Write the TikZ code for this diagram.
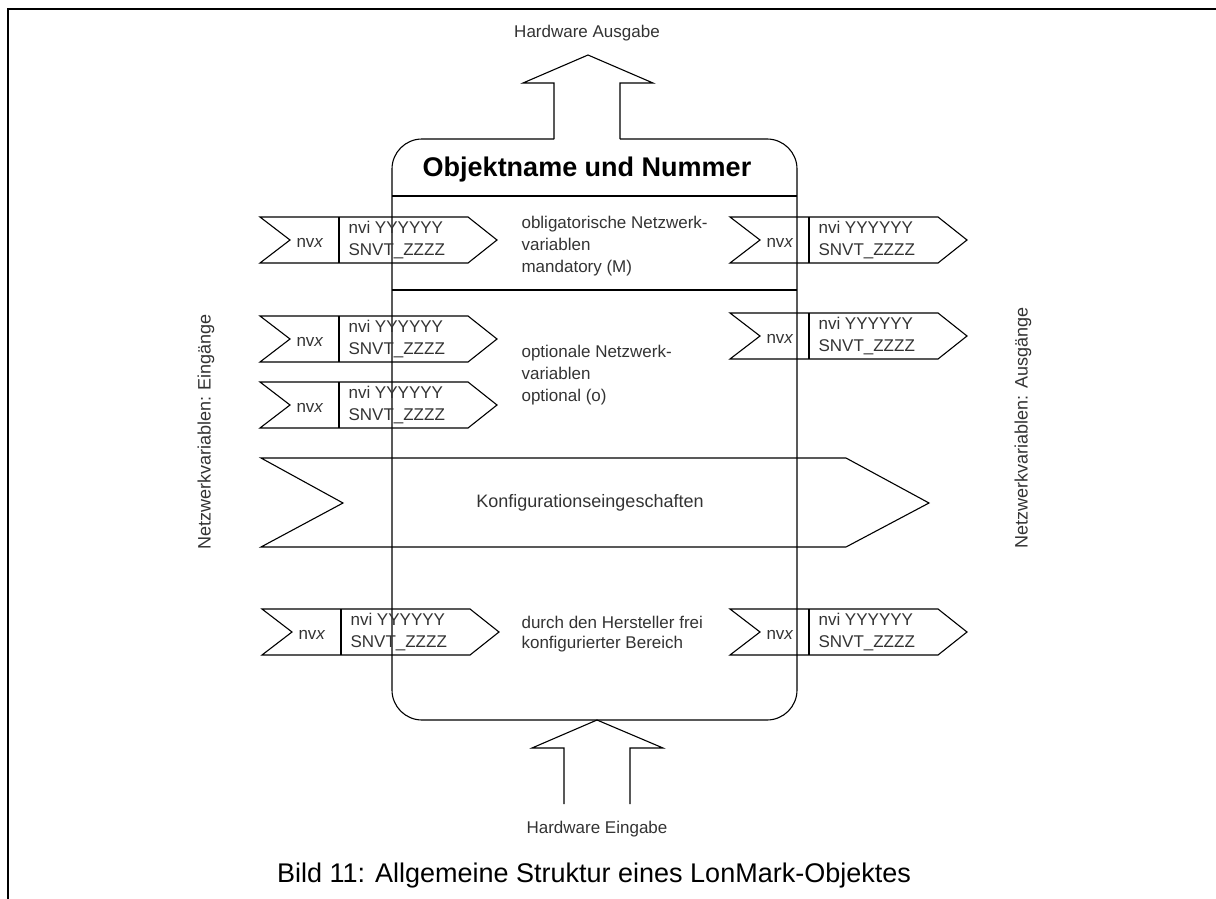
\documentclass[tikz,border=0pt]{standalone}
\usepackage{fontspec}
\setmainfont{Liberation Sans}
\usetikzlibrary{positioning}

\begin{document}
\begin{tikzpicture}[x=1pt,y=-1pt,line width=1.1pt,
  txt/.style={inner sep=0pt,text=black!80,font=\fontsize{17}{21}\selectfont},
  nvarrow/.pic={
    \draw (0,-23) -- (208,-23) -- (237,0) -- (208,23) -- (0,23) -- (30,0) -- cycle;
    \draw (79,-23) -- (79,23);
    \node[txt,anchor=base] (-nvx) at (50,7) {nv\textit{x}};
    \node[txt,anchor=base west] (-nvi) at (88,-7) {nvi YYYYYY};
    \node[txt,anchor=base west] (-snvt) at (88,15) {SNVT\_ZZZZ};
  }]
\useasboundingbox (0,0) rectangle (1216,899);
\draw[line width=2pt] (1216,9) -- (8,9) -- (8,899);

% objekt box with hardware output on top
\draw[rounded corners=30pt] (620,139) -- (797,139) -- (797,720) -- (392,720) -- (392,139) -- (554,139);
\draw (554,139) -- (554,83) -- (523,83) -- (588,55) -- (653,83) -- (620,83) -- (620,139);
\draw (392,196) -- (797,196);
\draw (392,290) -- (797,290);
\node[txt,font=\fontsize{27}{30}\bfseries,text=black] (name) at (587,170) {Objektname und Nummer};
\node[txt] (hwout) at (587,33) {Hardware Ausgabe};

% hardware input
\draw (564,804) -- (564,748) -- (532,748) -- (597,720) -- (663,748) -- (630,748) -- (630,804);
\node[txt] (hwin) at (597,829) {Hardware Eingabe};

% network variables
\pic (in1) at (260,240) {nvarrow};
\pic (out1) at (730,240) {nvarrow};
\pic (in2) at (260,339) {nvarrow};
\pic (out2) at (730,336) {nvarrow};
\pic (in3) at (260,405) {nvarrow};
\pic (in4) at (262,632) {nvarrow};
\pic (out4) at (730,632) {nvarrow};

% base of a multi-line node is its last line
\node[txt,align=left,anchor=base west,font=\fontsize{17}{22}\selectfont] (mand) at (521,272)
  {obligatorische Netzwerk-\\variablen\\mandatory (M)};
\node[txt,align=left,anchor=base west,font=\fontsize{17}{22}\selectfont] (opt) at (521,401)
  {optionale Netzwerk-\\variablen\\optional (o)};
\node[txt,align=left,anchor=base west,font=\fontsize{17}{20}\selectfont] (free) at (521,648)
  {durch den Hersteller frei\\konfigurierter Bereich};

% configuration properties
\draw (261,458) -- (846,458) -- (929,503) -- (846,547) -- (261,547) -- (343,503) -- cycle;
\node[txt,font=\fontsize{18}{21}\selectfont] (config) at (590,503) {Konfigurationseingeschaften};

\node[txt,rotate=90,font=\fontsize{18}{21}\selectfont] (inputs) at (206,432) {Netzwerkvariablen: Eingänge};
\node[txt,rotate=90,font=\fontsize{18}{21}\selectfont] (outputs) at (1023,428) {Netzwerkvariablen: Ausgänge};

\node[txt,text=black,font=\fontsize{27}{30}\selectfont] (caption) at (594,876)
  {Bild 11: Allgemeine Struktur eines LonMark-Objektes};
\end{tikzpicture}
\end{document}
